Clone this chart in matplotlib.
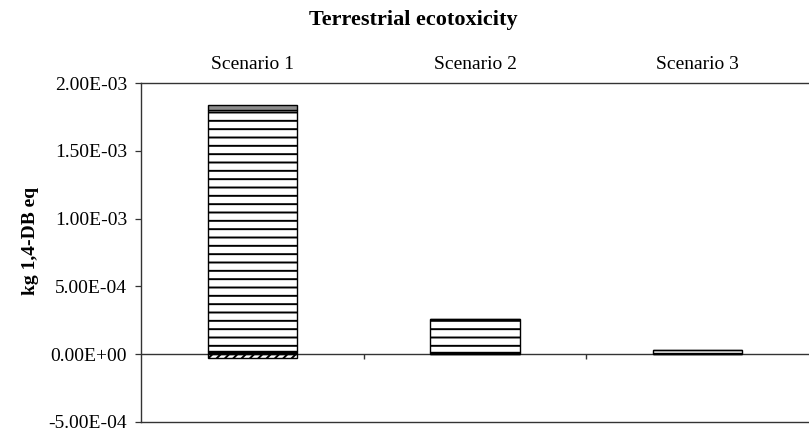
import numpy as np
import matplotlib
matplotlib.use('Agg')
import matplotlib.pyplot as plt

plt.rcParams['font.family'] = ['Liberation Serif', 'DejaVu Serif']
plt.rcParams['hatch.linewidth'] = 1.4
plt.rcParams['hatch.color'] = 'black'

scenarios = ['Scenario 1', 'Scenario 2', 'Scenario 3']
# stacked contributions, kg 1,4-DB eq
neg_part = [-2.9e-5, 0.0, 0.0]       # dashed hatch, below zero
black_part = [2.4e-5, 1.8e-5, 1.2e-5]  # solid black
stripe_part = [1.78e-3, 2.38e-4, 1.8e-5]  # horizontal stripes
grey_part = [3.5e-5, 0.0, 0.0]       # grey top
yticks = [-5e-4, 0.0, 5e-4, 1e-3, 1.5e-3, 2e-3]
ytick_labels = ['-5.00E-04', '0.00E+00', '5.00E-04', '1.00E-03', '1.50E-03', '2.00E-03']

fig = plt.figure(figsize=(8.09, 4.34), dpi=100)
ax = fig.add_axes([141 / 809, 1 - 422 / 434, 668 / 809, 339 / 434])

x = np.arange(len(scenarios))
w = 0.4
black_part = np.array(black_part)
stripe_part = np.array(stripe_part)
ax.bar(x, neg_part, w, color='white', edgecolor='black', hatch='////', linewidth=1.0)
ax.bar(x, black_part, w, color='black', edgecolor='black', linewidth=1.0)
ax.bar(x, stripe_part, w, bottom=black_part, color='white', edgecolor='black',
       hatch='--', linewidth=1.0)
ax.bar(x, grey_part, w, bottom=black_part + stripe_part, color='#8c8c8c',
       edgecolor='black', linewidth=1.0)

ax.set_xlim(-0.5, len(scenarios) - 0.5)
ax.set_ylim(-5e-4, 2e-3)
ax.set_yticks(yticks, ytick_labels, fontsize=14)
ax.tick_params(axis='y', direction='out', length=4, width=0.9, color='#333333', pad=6)

# category labels on top, axis line at zero with boundary ticks
ax.set_xticks(x, scenarios, fontsize=14)
ax.xaxis.tick_top()
ax.tick_params(axis='x', length=0, pad=7)
ax.axhline(0, color='#333333', lw=1.0, zorder=0.5)
bounds = x[:-1] + 0.5
ax.vlines(bounds, -3.7e-5, 0, color='#333333', lw=1.0)

for s in ['top', 'bottom', 'left']:
    ax.spines[s].set_color('#333333')
    ax.spines[s].set_linewidth(1.0)
ax.spines['right'].set_visible(False)

ax.set_ylabel('kg 1,4-DB eq', fontsize=14, fontweight='bold')
ax.yaxis.set_label_coords(-0.153, 0.535)

fig.text(413 / 809, 1 - 20 / 434, 'Terrestrial ecotoxicity', fontsize=16,
         fontweight='bold', ha='center', va='center')

fig.savefig('out.png', dpi=100)
